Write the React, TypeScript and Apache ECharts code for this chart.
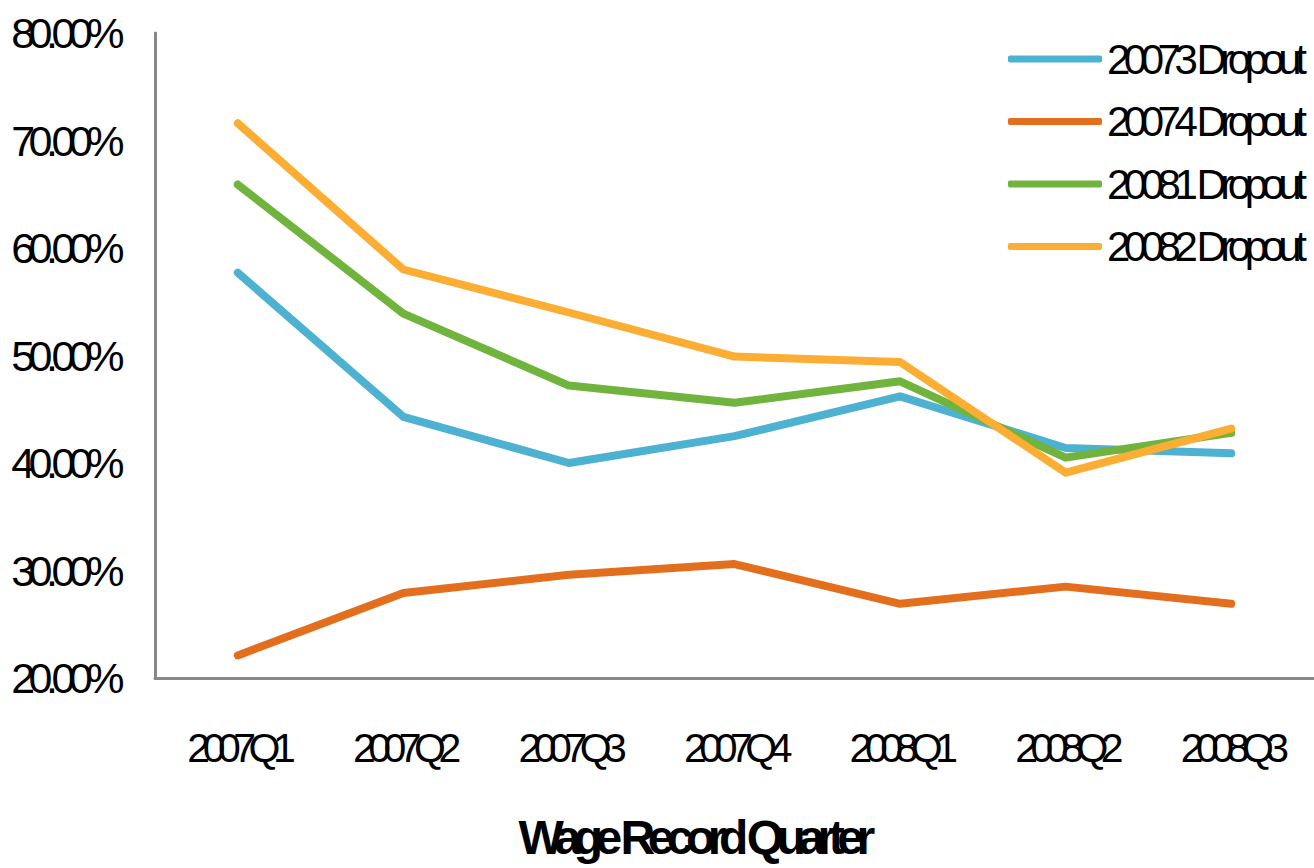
import React, { useEffect, useRef } from "react";
import * as echarts from "echarts";

const categories = ["2007Q1", "2007Q2", "2007Q3", "2007Q4", "2008Q1", "2008Q2", "2008Q3"];
const seriesNames = ["20073 Dropout", "20074 Dropout", "20081 Dropout", "20082 Dropout"];
const dropout20073 = [57.7, 44.3, 40.0, 42.5, 46.2, 41.4, 40.9];
const dropout20074 = [22.1, 27.9, 29.6, 30.6, 26.9, 28.5, 26.9];
const dropout20081 = [65.9, 53.9, 47.2, 45.6, 47.6, 40.5, 42.8];
const dropout20082 = [71.6, 58.0, 54.0, 49.9, 49.4, 39.1, 43.2];
const colors = ["#4DB1D1", "#E36F1E", "#70B33D", "#FBAE33"];
const yTicks = { min: 20, max: 80, interval: 10 };
const xTitle = "Wage Record Quarter";

const FONT = "'Liberation Sans', Arial, sans-serif";

const css = `
#root svg text[style*="43px"] { letter-spacing: -6.5px; }
#root svg text[style*="41px"] { letter-spacing: -7.5px; }
#root svg text[style*="42px"] { letter-spacing: -6.5px; }
#root svg text[style*="48px"] { letter-spacing: -7.5px; }
`;

export default function App() {
  const ref = useRef<HTMLDivElement>(null);
  useEffect(() => {
    if (!ref.current) return;
    const chart = echarts.init(ref.current, undefined, { renderer: "svg" });
    const data = [dropout20073, dropout20074, dropout20081, dropout20082];
    chart.setOption({
      animation: false,
      backgroundColor: "#ffffff",
      color: colors,
      title: {
        text: xTitle,
        left: 688,
        top: 808,
        textAlign: "center",
        textStyle: { fontFamily: FONT, fontSize: 48, fontWeight: "bold", color: "#000" },
      },
      legend: {
        orient: "vertical",
        left: 1008,
        top: 38,
        padding: 0,
        itemWidth: 94,
        itemHeight: 7,
        itemGap: 20.5,
        icon: "roundRect",
        data: seriesNames,
        textStyle: { fontFamily: FONT, fontSize: 42, color: "#000", lineHeight: 40 },
      },
      grid: { left: 155, right: 0, top: 33, bottom: 190, containLabel: false, outerBoundsMode: "none" },
      xAxis: {
        type: "category",
        data: categories,
        boundaryGap: true,
        axisTick: { show: false },
        axisLine: { lineStyle: { color: "#878787", width: 3 } },
        axisLabel: { fontFamily: FONT, fontSize: 41, color: "#000", margin: 49, interval: 0 },
      },
      yAxis: {
        type: "value",
        min: yTicks.min,
        max: yTicks.max,
        interval: yTicks.interval,
        splitLine: { show: false },
        axisTick: { show: false },
        axisLine: { show: true, lineStyle: { color: "#878787", width: 3 } },
        axisLabel: {
          fontFamily: FONT,
          fontSize: 43,
          color: "#000",
          margin: 37,
          formatter: (v: number) => v.toFixed(2) + "%",
        },
      },
      series: seriesNames.map((name, i) => ({
        name,
        type: "line",
        data: data[i],
        symbol: "none",
        lineStyle: { width: 8, color: colors[i], cap: "round", join: "round" },
        itemStyle: { color: colors[i] },
      })),
    });
    return () => chart.dispose();
  }, []);
  return (
    <>
      <style>{css}</style>
      <div
        ref={ref}
        style={{ position: "absolute", left: 0, top: 0, width: 1314, height: 868 }}
      />
    </>
  );
}
